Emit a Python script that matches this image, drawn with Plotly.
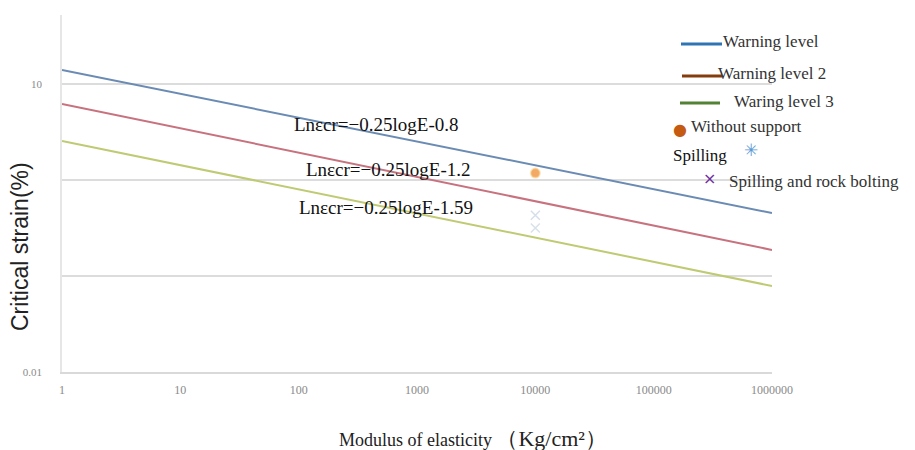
import plotly.graph_objects as go

# ---- data ----
modulus = [1, 1000000]                      # E (Kg/cm2)
warning_level_1 = [14.0, 0.453]             # critical strain (%)
warning_level_2 = [6.2, 0.187]
warning_level_3 = [2.55, 0.0787]

point_E = [10000]
without_support = [1.18]
spilling = [0.43]
spilling_bolting = [0.316]

x_tickvals = [1, 10, 100, 1000, 10000, 100000, 1000000]
x_ticktext = ["1", "10", "100", "1000", "10000", "100000", "1000000"]
y_tickvals = [0.01, 0.1, 1, 10]
y_ticktext = ["0.01", "", "", "10"]

equations = ["Lnεcr=−0.25logE-0.8", "Lnεcr=−0.25logE-1.2", "Lnεcr=−0.25logE-1.59"]

fig = go.Figure()
fig.add_trace(go.Scatter(x=modulus, y=warning_level_1, mode="lines",
                         line=dict(color="#6a8bb3", width=2), showlegend=False))
fig.add_trace(go.Scatter(x=modulus, y=warning_level_2, mode="lines",
                         line=dict(color="#c7727e", width=2), showlegend=False))
fig.add_trace(go.Scatter(x=modulus, y=warning_level_3, mode="lines",
                         line=dict(color="#bfca72", width=2), showlegend=False))
fig.add_trace(go.Scatter(x=point_E, y=without_support, mode="markers",
                         marker=dict(color="rgba(236,140,50,0.75)", size=9,
                                     line=dict(color="rgba(250,200,120,0.5)", width=2)),
                         showlegend=False))
fig.add_trace(go.Scatter(x=point_E, y=spilling, mode="markers",
                         marker=dict(symbol="x-thin", color="rgba(185,200,220,0.6)", size=9,
                                     line=dict(color="rgba(185,200,220,0.6)", width=1.5)),
                         showlegend=False))
fig.add_trace(go.Scatter(x=point_E, y=spilling_bolting, mode="markers",
                         marker=dict(symbol="x-thin", color="rgba(190,205,220,0.6)", size=9,
                                     line=dict(color="rgba(190,205,220,0.6)", width=1.5)),
                         showlegend=False))

def xp(px):
    return (px - 62) / 710

def yp(py):
    return (372 - py) / 357

shapes = []
annotations = []

# equation labels
eq_pos = [(292, 124), (304, 169), (297, 207)]
for txt, (px, py) in zip(equations, eq_pos):
    annotations.append(dict(text=txt, x=xp(px), y=yp(py), xref="paper", yref="paper",
                            xanchor="left", yanchor="middle", showarrow=False,
                            font=dict(family="Liberation Serif", size=19, color="#111111")))

# manual legend
legend_lines = [("#2e75b6", 681, 722, 44), ("#843c0c", 682, 722, 76), ("#538135", 680, 720, 103)]
for col, x0, x1, py in legend_lines:
    shapes.append(dict(type="line", xref="paper", yref="paper", x0=xp(x0), x1=xp(x1),
                       y0=yp(py), y1=yp(py), line=dict(color=col, width=3)))

legend_texts = [("Warning level", 721, 42, "#333333"),
                ("Warning level 2", 716, 73, "#333333"),
                ("Waring level 3", 732, 101, "#333333"),
                ("Without support", 689, 126, "#333333"),
                ("Spilling", 671, 155, "#111111"),
                ("Spilling and rock bolting", 727, 181, "#333333")]
for txt, px, py, col in legend_texts:
    annotations.append(dict(text=txt, x=xp(px), y=yp(py), xref="paper", yref="paper",
                            xanchor="left", yanchor="middle", showarrow=False,
                            font=dict(family="Liberation Serif", size=17, color=col)))

annotations.append(dict(text="●", x=xp(680), y=yp(129), xref="paper", yref="paper",
                        xanchor="center", yanchor="middle", showarrow=False,
                        font=dict(family="DejaVu Sans", size=16, color="#c55a11")))
annotations.append(dict(text="✳", x=xp(751), y=yp(150), xref="paper", yref="paper",
                        xanchor="center", yanchor="middle", showarrow=False,
                        font=dict(family="DejaVu Sans", size=17, color="#5b9bd5")))
annotations.append(dict(text="×", x=xp(709), y=yp(178), xref="paper", yref="paper",
                        xanchor="center", yanchor="middle", showarrow=False,
                        font=dict(family="DejaVu Sans", size=16, color="#7030a0")))

# axis titles
annotations.append(dict(text="Critical strain(%)", x=xp(20), y=yp(247), xref="paper", yref="paper",
                        xanchor="center", yanchor="middle", textangle=-90, showarrow=False,
                        font=dict(family="Liberation Sans", size=23, color="#222222")))
annotations.append(dict(text="Modulus of elasticity <span style='font-size:22px'>（Kg/cm²）</span>",
                        x=xp(473), y=yp(438), xref="paper", yref="paper",
                        xanchor="center", yanchor="middle", showarrow=False,
                        font=dict(family="Liberation Serif", size=18, color="#222222")))

fig.update_layout(
    width=915, height=450,
    margin=dict(l=62, r=143, t=15, b=78),
    paper_bgcolor="white", plot_bgcolor="white",
    shapes=shapes, annotations=annotations,
    xaxis=dict(type="log", range=[0, 6], tickvals=x_tickvals, ticktext=x_ticktext,
               showgrid=False, showline=True, linecolor="#d9d9d9", linewidth=2,
               ticks="", ticklabelstandoff=6,
               tickfont=dict(family="Liberation Serif", size=12, color="#8a8a8a"), zeroline=False),
    yaxis=dict(type="log", range=[-2, 1.719], tickvals=y_tickvals, ticktext=y_ticktext,
               showgrid=True, gridcolor="#dcdcdc", gridwidth=1.5,
               showline=True, linecolor="#e6e6e6", linewidth=1.5,
               ticks="", ticklabelstandoff=16,
               tickfont=dict(family="Liberation Serif", size=11, color="#8a8a8a"), zeroline=False),
)

fig.write_html("out.html")
